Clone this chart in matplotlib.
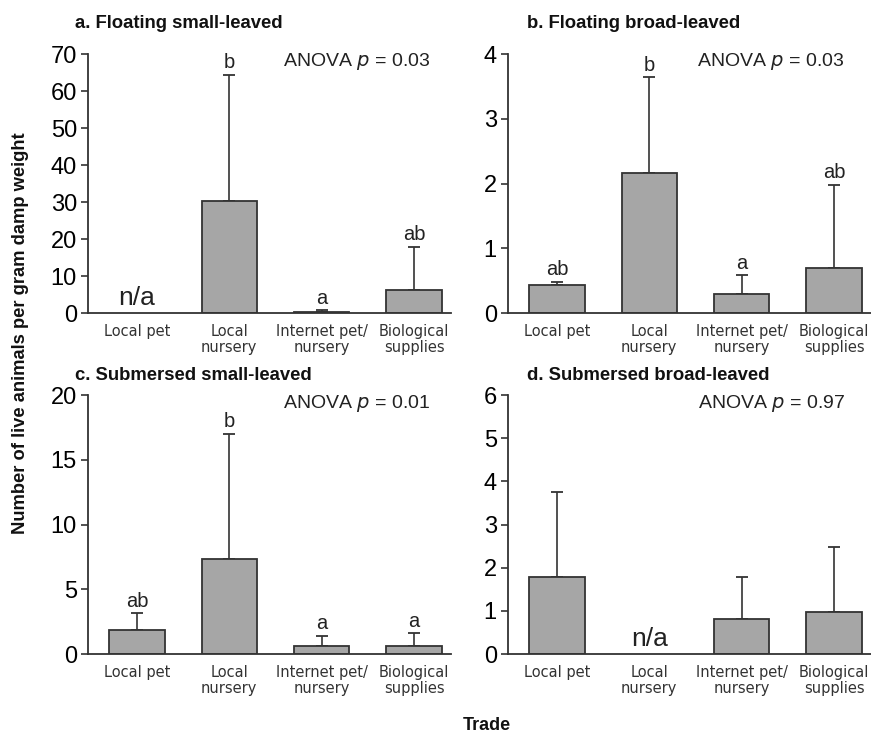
import numpy as np
import matplotlib.pyplot as plt

# trade categories (x axis)
categories = ["Local pet", "Local\nnursery", "Internet pet/\nnursery", "Biological\nsupplies"]

# panel a: floating small-leaved (None = n/a)
a_means = [None, 30.2, 0.4, 6.3]
a_err = [None, 34.2, 0.3, 11.5]
a_letters = ["", "b", "a", "ab"]

# panel b: floating broad-leaved
b_means = [0.44, 2.16, 0.29, 0.69]
b_err = [0.04, 1.48, 0.29, 1.29]
b_letters = ["ab", "b", "a", "ab"]

# panel c: submersed small-leaved
c_means = [1.85, 7.31, 0.62, 0.62]
c_err = [1.29, 9.69, 0.80, 0.98]
c_letters = ["ab", "b", "a", "a"]

# panel d: submersed broad-leaved
d_means = [1.78, None, 0.80, 0.98]
d_err = [1.98, None, 0.99, 1.49]
d_letters = ["", "", "", ""]

titles = ["a. Floating small-leaved", "b. Floating broad-leaved",
          "c. Submersed small-leaved", "d. Submersed broad-leaved"]
anova = ["0.03", "0.03", "0.01", "0.97"]
ymax = [70, 4, 20, 6]
ystep = [10, 1, 5, 1]

plt.rcParams['font.family'] = ['Liberation Sans', 'DejaVu Sans']

fig = plt.figure(figsize=(8.71, 7.37), dpi=100)
boxes = [[0.101, 0.5753, 0.4168, 0.3514], [0.5832, 0.5753, 0.4168, 0.3514],
         [0.101, 0.1126, 0.4168, 0.3514], [0.5832, 0.1126, 0.4168, 0.3514]]
title_x = [-0.036, 0.052, -0.036, 0.052]
title_y = [1.116, 1.116, 1.077, 1.077]
anova_x = [0.942, 0.928, 0.942, 0.928]
anova_y = [0.973, 0.973, 0.969, 0.969]

panels = [(a_means, a_err, a_letters), (b_means, b_err, b_letters),
          (c_means, c_err, c_letters), (d_means, d_err, d_letters)]

edge = '#333333'
for i, (means, errs, letters) in enumerate(panels):
    ax = fig.add_axes(boxes[i])
    x = np.arange(len(categories))
    for j in range(len(categories)):
        if means[j] is None:
            # no data for this trade
            ax.annotate("n/a", (x[j], 0), xytext=(0, 6), textcoords='offset points',
                        ha='center', va='baseline', fontsize=19, color='#222222')
            continue
        ax.bar(x[j], means[j], width=0.6, color='#a6a6a6', edgecolor=edge, linewidth=1.3, zorder=2)
        ax.errorbar(x[j], means[j], yerr=[[0], [errs[j]]], fmt='none', ecolor=edge,
                    elinewidth=1.2, capsize=4, capthick=1.3, zorder=1)
        if letters[j]:
            ax.annotate(letters[j], (x[j], means[j] + errs[j]), xytext=(0, 2), textcoords='offset points',
                        ha='center', va='bottom', fontsize=14.5, color='#222222')
    ax.set_xlim(-0.53, 3.4)
    ax.set_ylim(0, ymax[i])
    ax.set_yticks(np.arange(0, ymax[i] + ystep[i] / 2, ystep[i]))
    ax.set_xticks(x)
    ax.set_xticklabels(categories, fontsize=10.5, color='#333333', family=['DejaVu Sans'], linespacing=1.05)
    ax.tick_params(axis='x', length=0, pad=8)
    ax.tick_params(axis='y', labelsize=17, length=5, width=1.2, color=edge, pad=3)
    for s in ['top', 'right']:
        ax.spines[s].set_visible(False)
    for s in ['left', 'bottom']:
        ax.spines[s].set_color(edge)
        ax.spines[s].set_linewidth(1.3)
    ax.text(anova_x[i], anova_y[i], "ANOVA $p$ = " + anova[i], transform=ax.transAxes, ha='right',
            va='center', fontsize=14, color='#222222')
    ax.text(title_x[i], title_y[i], titles[i], transform=ax.transAxes, ha='left', va='center',
            fontsize=13.3, fontweight='bold', color='#111111')

fig.text(0.024, 0.548, "Number of live animals per gram damp weight", rotation=90, ha='center',
         va='center', fontsize=13.2, fontweight='bold', color='#111111')
fig.text(0.559, 0.016, "Trade", ha='center', va='center', fontsize=13, fontweight='bold', color='#111111')

plt.savefig("out.png", dpi=100)
